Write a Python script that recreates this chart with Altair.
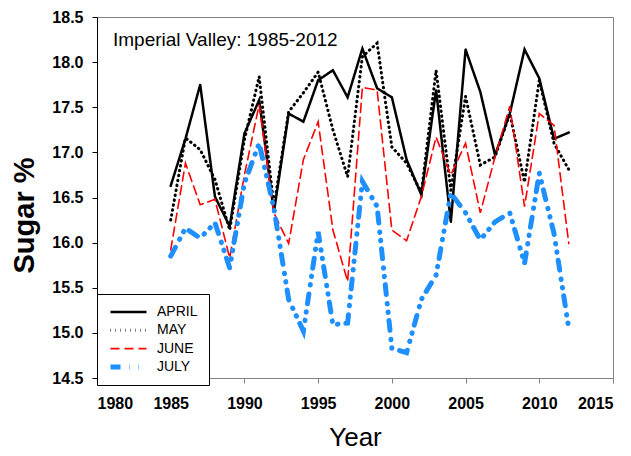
import altair as alt
import pandas as pd

years = list(range(1985, 2013))
series_names = ["APRIL", "MAY", "JUNE", "JULY"]
chart_title = "Imperial Valley: 1985-2012"

april = [16.63, 17.15, 17.75, 16.51, 16.18, 17.21, 17.58, 16.34, 17.43, 17.34,
         17.80, 17.91, 17.61, 18.15, 17.71, 17.61, 16.92, 16.53, 17.69, 16.23,
         18.14, 17.67, 16.97, 17.43, 18.14, 17.82, 17.15, 17.22]
may = [16.25, 17.16, 17.03, 16.70, 16.14, 17.14, 17.84, 16.40, 17.45, 17.66,
       17.89, 17.25, 16.73, 18.06, 18.21, 17.06, 16.88, 16.55, 17.91, 16.58,
       17.62, 16.86, 16.95, 17.43, 16.67, 17.80, 17.10, 16.81]
june = [15.92, 16.88, 16.42, 16.48, 15.83, 16.75, 17.53, 16.33, 15.99, 16.92,
        17.34, 16.14, 15.57, 17.72, 17.69, 16.14, 16.02, 16.51, 17.17, 16.75,
        17.10, 16.33, 16.95, 17.51, 16.40, 17.43, 17.30, 15.99]
july = [15.85, 16.16, 16.05, 16.22, 15.72, 16.66, 17.10, 16.38, 15.37, 15.02,
        16.12, 15.09, 15.11, 16.68, 16.40, 14.83, 14.78, 15.37, 15.64, 16.55,
        16.33, 16.03, 16.23, 16.33, 15.77, 16.77, 16.10, 15.05]

colors = ["#000000", "#000000", "#FF0000", "#1E8FFF"]
dashes = [[1, 0], [0.5, 4.5], [9, 5], [10, 9, 0.5, 8, 0.5, 8]]
widths = [2.5, 3, 1.6, 5]

rows = []
for name, vals in zip(series_names, [april, may, june, july]):
    for y, v in zip(years, vals):
        rows.append({"Year": y, "Sugar": v, "Month": name})
df = pd.DataFrame(rows)

FONT = "Liberation Sans"

legend = alt.Legend(
    title=None, orient="none", legendX=0, legendY=277,
    symbolType="stroke", symbolSize=1296, labelFontSize=14, labelFont=FONT,
    labelColor="black", labelOffset=8, padding=11, rowPadding=4.3, clipHeight=14,
    strokeColor="black", fillColor="white", symbolOffset=0,
)

lines = alt.Chart(df).mark_line(strokeCap="round", strokeJoin="miter").encode(
    x=alt.X("Year:Q", scale=alt.Scale(domain=[1980, 2015], nice=False, zero=False),
            axis=alt.Axis(values=list(range(1980, 2016, 5)), format="d", title="Year",
                          grid=False, domainColor="#808080", tickColor="#808080",
                          tickSize=5, labelFont=FONT, labelFontSize=16, labelFontWeight="bold",
                          labelColor="black", labelPadding=12,
                          titleFont=FONT, titleFontSize=26, titleFontWeight="normal",
                          titleColor="black", titleBaseline="alphabetic", titleY=67,
                          titleX=258)),
    y=alt.Y("Sugar:Q", scale=alt.Scale(domain=[14.5, 18.5], nice=False, zero=False),
            axis=alt.Axis(values=[14.5, 15.0, 15.5, 16.0, 16.5, 17.0, 17.5, 18.0, 18.5],
                          format=".1f", title="Sugar %", grid=False,
                          domainColor="black", tickColor="black", tickSize=5,
                          labelFont=FONT, labelFontSize=16, labelFontWeight="bold",
                          labelColor="black", labelPadding=9,
                          titleFont=FONT, titleFontSize=29, titleFontWeight="bold",
                          titleColor="black", titleBaseline="alphabetic",
                          titleX=-64, titleY=198, titleAlign="center")),
    color=alt.Color("Month:N", scale=alt.Scale(domain=series_names, range=colors),
                    sort=series_names, legend=legend),
    strokeDash=alt.StrokeDash("Month:N", scale=alt.Scale(domain=series_names, range=dashes),
                              sort=series_names, legend=legend),
    strokeWidth=alt.StrokeWidth("Month:N",
                                scale=alt.Scale(type="ordinal", domain=series_names, range=widths),
                                sort=series_names, legend=legend),
)

title_text = alt.Chart(pd.DataFrame({"t": [chart_title]})).mark_text(
    align="left", baseline="alphabetic", font=FONT, fontSize=19, color="black"
).encode(x=alt.value(16), y=alt.value(29), text="t:N")

chart = alt.layer(lines, title_text).properties(
    width=516, height=361,
    autosize=alt.AutoSizeParams(type="none"),
    padding={"left": 89, "top": 9, "right": 10, "bottom": 70},
).configure_view(stroke="#808080", strokeWidth=1)

chart.save("out.html", embed_options={"renderer": "svg", "actions": False})
